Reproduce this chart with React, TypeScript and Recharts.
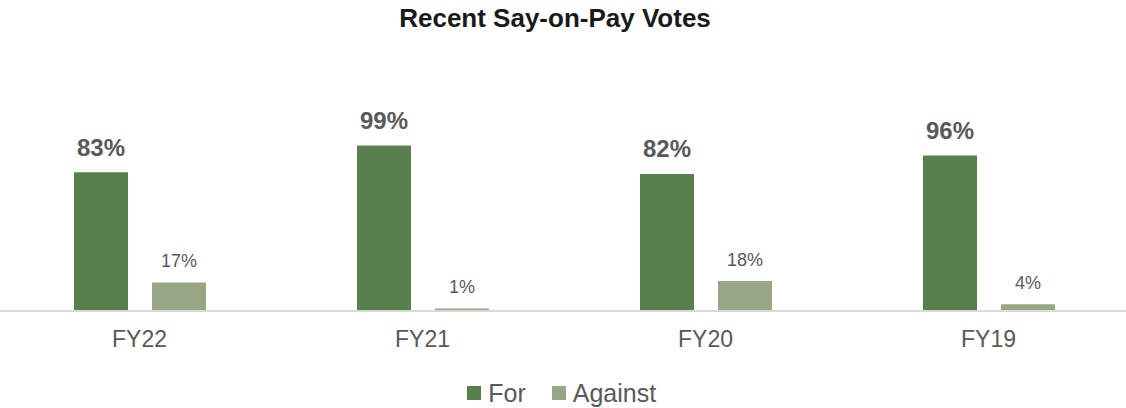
import React from 'react';
import { BarChart, Bar, XAxis, YAxis, Legend, LabelList } from 'recharts';

const categories = ['FY22', 'FY21', 'FY20', 'FY19'];
const forVotes = [83, 99, 82, 93];
const againstVotes = [17, 1.5, 18, 4];
const forLabels = ['83%', '99%', '82%', '96%'];
const againstLabels = ['17%', '1%', '18%', '4%'];
const seriesNames = ['For', 'Against'];
const seriesColors = ['#5a7f4e', '#98a685'];
const chartTitle = 'Recent Say-on-Pay Votes';

const data = categories.map((c, i) => ({
  category: c,
  For: forVotes[i],
  Against: againstVotes[i],
  forLabel: forLabels[i],
  againstLabel: againstLabels[i],
}));

const FONT = '"Liberation Sans", Arial, Helvetica, sans-serif';
const LABEL_COLOR = '#595959';

const Tick = (props: any) => {
  const { x, y, payload } = props;
  return (
    <text x={x} y={y + 35.7} textAnchor="middle" fill={LABEL_COLOR} fontSize={23} fontFamily={FONT}>
      {payload.value}
    </text>
  );
};

const makeLabel = (fontSize: number, bold: boolean, gap: number) => (props: any) => {
  const { x, y, width, value } = props;
  return (
    <text
      x={Number(x) + Number(width) / 2}
      y={Number(y) - gap}
      textAnchor="middle"
      fill={LABEL_COLOR}
      fontSize={fontSize}
      fontWeight={bold ? 'bold' : 'normal'}
      fontFamily={FONT}
    >
      {value}
    </text>
  );
};

const LegendContent = () => (
  <div
    style={{
      display: 'flex',
      justifyContent: 'center',
      alignItems: 'center',
      height: 30,
      fontFamily: FONT,
      fontSize: 25,
      color: LABEL_COLOR,
      marginLeft: -4,
    }}
  >
    {seriesNames.map((n, i) => (
      <div key={n} style={{ display: 'flex', alignItems: 'center', marginLeft: i === 0 ? 0 : 26 }}>
        <div style={{ width: 14, height: 14, background: seriesColors[i], marginRight: 7 }} />
        <span style={{ lineHeight: '30px' }}>{n}</span>
      </div>
    ))}
  </div>
);

export default function App() {
  return (
    <div
      style={{
        position: 'absolute',
        left: 0,
        top: 0,
        width: 1126,
        height: 408,
        overflow: 'hidden',
        background: '#ffffff',
      }}
    >
      <div
        style={{
          position: 'absolute',
          left: 0,
          top: 4.7,
          width: 1110,
          textAlign: 'center',
          fontFamily: FONT,
          fontWeight: 'bold',
          fontSize: 26,
          lineHeight: '26px',
          color: '#1a1a1a',
        }}
      >
        {chartTitle}
      </div>
      <div style={{ position: 'absolute', left: -2.3, top: 0 }}>
        <BarChart
          width={1132}
          height={408}
          data={data}
          margin={{ top: 143.8, right: 0, bottom: 0, left: 0 }}
          barSize={54}
          barGap={24}
        >
          <YAxis hide domain={[0, 100]} />
          <Legend
            verticalAlign="bottom"
            height={30}
            wrapperStyle={{ height: 30 }}
            content={<LegendContent />}
          />
          <XAxis
            dataKey="category"
            axisLine={{ stroke: '#d9d9d9', strokeWidth: 2 }}
            tickLine={false}
            tickSize={0}
            tickMargin={0}
            height={67}
            tick={<Tick />}
            interval={0}
          />
          <Bar dataKey="For" fill={seriesColors[0]} isAnimationActive={false}>
            <LabelList dataKey="forLabel" content={makeLabel(24, true, 16.6)} />
          </Bar>
          <Bar dataKey="Against" fill={seriesColors[1]} isAnimationActive={false}>
            <LabelList dataKey="againstLabel" content={makeLabel(18, false, 15.4)} />
          </Bar>
        </BarChart>
      </div>
    </div>
  );
}
